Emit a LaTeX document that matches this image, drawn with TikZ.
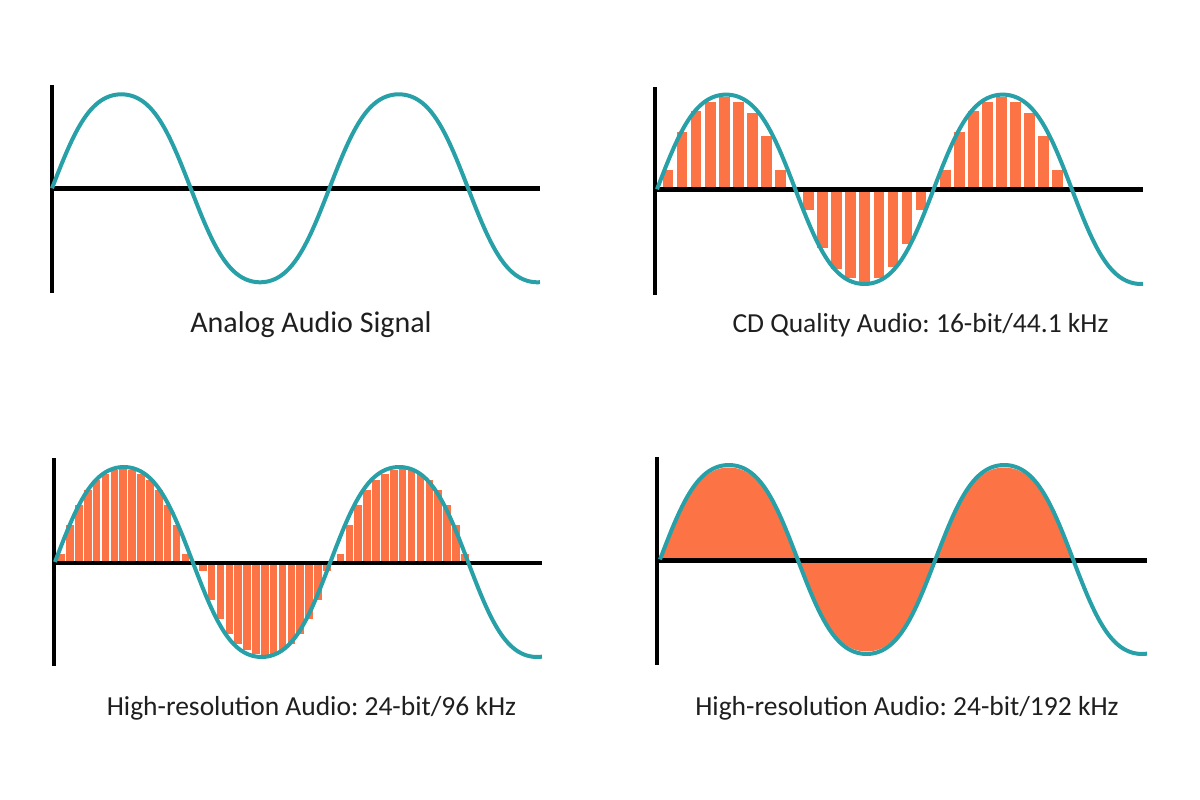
\documentclass[tikz,border=0pt]{standalone}
\usepackage{fontspec}
\setmainfont{Carlito}
\frenchspacing
\definecolor{wavecol}{RGB}{40,160,168}
\definecolor{sampcol}{RGB}{252,115,70}
\begin{document}
\begin{tikzpicture}[x=1pt,y=-1pt,
  declare function={wv(\t)=(sin(\t)+0.05*sin(3*\t))/0.95;},
  axis/.style={line width=4.3pt, black},
  wave/.style={line width=4pt, draw=wavecol, line join=round},
  bar/.style={fill=sampcol},
  lab/.style={anchor=base, font=\fontsize{30}{36}\selectfont, text=black!88, inner sep=0pt},
  labs/.style={lab, font=\fontsize{27.5}{33}\selectfont}]
\useasboundingbox (0,0) rectangle (1200,800);
\fill[white] (0,0) rectangle (1200,800);

% ---------- Panel 1: analog ----------
\draw[axis] (52,85) -- (52,293);
\draw[axis] (52,188.5) -- (540,188.5);
\draw[wave] plot[domain=52:540, samples=200] (\x, {188.3 - 94*wv((\x-52)/138.7*180)});
\node[lab] (l1) at (311,332) {Analog Audio Signal};

% ---------- Panel 2: CD quality ----------
\foreach \h [count=\i from 0] in {19.5,57.8,78.8,87.8,92.8,87.8,76.8,53.5,19.5}
  \fill[bar] ({662.7+\i*14.04},189.5) rectangle ++(10.7,-\h);
\foreach \h [count=\i from 0] in {20.5,58.8,79.8,88.8,94.5,88.8,77.2,54.8,20.5}
  \fill[bar] ({803.3+\i*14.04},189.5) rectangle ++(10.7,\h);
\foreach \h [count=\i from 0] in {19.5,57.8,78.8,87.8,92.8,87.8,76.8,53.5,19.5}
  \fill[bar] ({940+\i*14.04},189.5) rectangle ++(10.7,-\h);
\draw[axis] (655,87) -- (655,295);
\draw[axis] (655,189.5) -- (1143,189.5);
\draw[wave] plot[domain=657:1143, samples=200] (\x, {189.3 - 94.7*wv((\x-657)/138.3*180)});
\node[labs] (l2) at (920.5,332) {CD Quality Audio: 16-bit/44.1 kHz};

% ---------- Panel 3: 24-bit / 96 kHz ----------
\foreach \h [count=\i from 0] in {9,38,58,73,83,89,93,95,93,89,83,73,58,38,9}
  \fill[bar] ({57.3+\i*8.88},563) rectangle ++(7.6,-\h);
\foreach \h [count=\i from 0] in {8,37,56,71,81,87,91,92,91,87,81,71,56,37,8}
  \fill[bar] ({199+\i*8.85},563) rectangle ++(7.6,\h);
\foreach \h [count=\i from 0] in {9,38,58,73,83,89,93,95,93,89,83,73,58,38,9}
  \fill[bar] ({336.7+\i*8.88},563) rectangle ++(7.6,-\h);
\draw[axis] (54,458) -- (54,666);
\draw[axis] (54,563) -- (542,563);
\draw[wave] plot[domain=55:542, samples=200] (\x, {562 - 95*wv((\x-55)/137.7*180)});
\node[labs] (l3) at (311.5,715) {High-resolution Audio: 24-bit/96 kHz};

% ---------- Panel 4: 24-bit / 192 kHz ----------
\fill[bar] plot[domain=660:1073, samples=240] (\x, {559.5 - 92*wv((\x-660)/137.7*180)}) -- cycle;
\draw[axis] (657,457) -- (657,665);
\draw[axis] (657,560.5) -- (1147,560.5);
\draw[wave] plot[domain=660:1147, samples=200] (\x, {559.5 - 94.5*wv((\x-660)/137.7*180)});
\node[labs] (l4) at (907,715) {High-resolution Audio: 24-bit/192 kHz};
\end{tikzpicture}
\end{document}
